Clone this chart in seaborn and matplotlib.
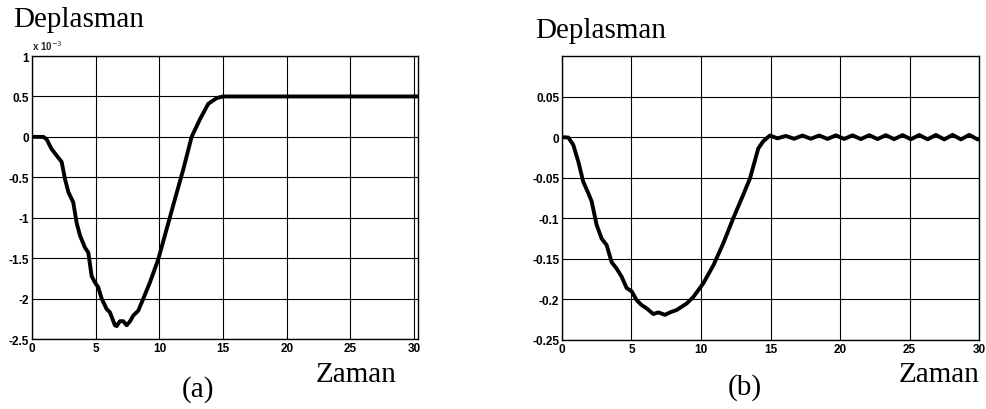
import matplotlib
matplotlib.use("Agg")
import matplotlib.pyplot as plt
import seaborn as sns
import pandas as pd

# Displacement response (a), values in units of 1e-3
time_a = [0.0, 0.9, 1.15, 1.54, 1.93, 2.33, 2.59, 2.85, 3.24, 3.5, 3.77, 4.16,
          4.42, 4.68, 4.94, 5.2, 5.47, 5.86, 6.12, 6.51, 6.65, 6.9, 7.17, 7.43,
          7.7, 7.95, 8.34, 8.74, 9.26, 9.92, 10.57, 11.22, 11.88, 12.53, 13.19,
          13.84, 14.5, 15.0, 20.0, 25.0, 30.4]
disp_a = [0.0, 0.0, -0.03, -0.15, -0.23, -0.31, -0.52, -0.68, -0.81, -1.06,
          -1.22, -1.37, -1.43, -1.72, -1.80, -1.86, -2.0, -2.13, -2.17, -2.33,
          -2.34, -2.28, -2.28, -2.33, -2.28, -2.21, -2.15, -2.0, -1.80, -1.51,
          -1.14, -0.77, -0.40, 0.0, 0.22, 0.41, 0.48, 0.5, 0.5, 0.5, 0.5]

# Displacement response (b)
time_b = [0.0, 0.46, 0.81, 1.17, 1.53, 1.89, 2.13, 2.49, 2.85, 3.21, 3.57,
          3.93, 4.29, 4.65, 5.01, 5.37, 5.73, 6.09, 6.57, 6.93, 7.41, 7.77,
          8.25, 8.97, 9.45, 10.17, 10.89, 11.6, 12.32, 13.04, 13.52, 14.12,
          14.48, 14.96, 15.5, 16.1, 16.7, 17.3, 17.9, 18.5, 19.1, 19.7, 20.3,
          20.9, 21.5, 22.1, 22.7, 23.3, 23.9, 24.5, 25.1, 25.7, 26.3, 26.9,
          27.5, 28.1, 28.7, 29.3, 29.9, 30.1]
disp_b = [0.0, -0.0005, -0.0095, -0.030, -0.055, -0.069, -0.079, -0.108,
          -0.125, -0.133, -0.154, -0.162, -0.172, -0.186, -0.190, -0.201,
          -0.207, -0.211, -0.218, -0.216, -0.219, -0.216, -0.213, -0.205,
          -0.197, -0.180, -0.158, -0.131, -0.100, -0.071, -0.051, -0.014,
          -0.005, 0.002, -0.0015, 0.0015, -0.002, 0.002, -0.002, 0.002,
          -0.0022, 0.0022, -0.0022, 0.0022, -0.0024, 0.0024, -0.0024, 0.0024,
          -0.0025, 0.0025, -0.0026, 0.0026, -0.0027, 0.0027, -0.0028, 0.0028,
          -0.0028, 0.0028, -0.0028, -0.002]

x_ticks = [0, 5, 10, 15, 20, 25, 30]
y_ticks_a = [1, 0.5, 0, -0.5, -1, -1.5, -2, -2.5]
y_labels_a = ["1", "0.5", "0", "-0.5", "-1", "-1.5", "-2", "-2.5"]
y_ticks_b = [0.05, 0, -0.05, -0.1, -0.15, -0.2, -0.25]
y_labels_b = ["0.05", "0", "-0.05", "-0.1", "-0.15", "-0.2", "-0.25"]

sns.set_theme(style="white")
plt.rcParams["font.family"] = ["Liberation Sans", "DejaVu Sans"]

fig = plt.figure(figsize=(9.87, 4.10), dpi=100)
ax_a = fig.add_axes([0.0324, 0.1707, 0.3911, 0.6902])
ax_b = fig.add_axes([0.5694, 0.1683, 0.4225, 0.6927])

df_a = pd.DataFrame({"t": time_a, "d": disp_a})
df_b = pd.DataFrame({"t": time_b, "d": disp_b})

sns.lineplot(data=df_a, x="t", y="d", ax=ax_a, sort=False, estimator=None,
             color="black", linewidth=2.8)
sns.lineplot(data=df_b, x="t", y="d", ax=ax_b, sort=False, estimator=None,
             color="black", linewidth=2.8)

tick_font = dict(fontsize=8.5, fontweight="bold", family="Liberation Sans")

for ax, yt, yl, ylim, xmax in [
    (ax_a, y_ticks_a, y_labels_a, (-2.5, 1.0), 30.3),
    (ax_b, y_ticks_b, y_labels_b, (-0.25, 0.1), 30.0),
]:
    ax.set_xlim(0, xmax)
    ax.set_ylim(*ylim)
    ax.set_xticks(x_ticks)
    ax.set_xticklabels([str(v) for v in x_ticks], **tick_font)
    ax.set_yticks(yt)
    ax.set_yticklabels(yl, **tick_font)
    ax.grid(True, color="black", linewidth=0.8, linestyle="-")
    ax.set_axisbelow(True)
    ax.tick_params(axis="both", length=0, pad=2, colors="black")
    for sp in ax.spines.values():
        sp.set_color("black")
        sp.set_linewidth(1.0)
    ax.set_xlabel("")
    ax.set_ylabel("")

serif = dict(family="Liberation Serif", fontsize=21, color="black")

fig.text(13 / 987, 1 - 27 / 410, "Deplasman", ha="left", va="baseline", **serif)
fig.text(535 / 987, 1 - 38 / 410, "Deplasman", ha="left", va="baseline", **serif)
fig.text(397 / 987, 1 - 382 / 410, "Zaman", ha="right", va="baseline", **serif)
fig.text(980 / 987, 1 - 382 / 410, "Zaman", ha="right", va="baseline", **serif)
fig.text(198 / 987, 1 - 390 / 410, "(a)", ha="center", va="center", **serif)
fig.text(745 / 987, 1 - 388 / 410, "(b)", ha="center", va="center", **serif)

fig.text(32 / 987, 1 - 51 / 410, r"x 10$^{-3}$", ha="left", va="baseline",
         fontsize=7, fontweight="bold", family="Liberation Sans")

fig.savefig("out.png", dpi=100, facecolor="white")
